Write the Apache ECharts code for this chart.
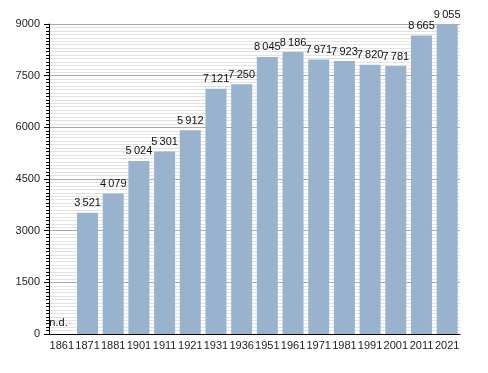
<!DOCTYPE html>
<html><head><meta charset="utf-8">
<script src="https://cdn.jsdelivr.net/npm/echarts@6/dist/echarts.min.js"></script>
<style>html,body{margin:0;padding:0;background:#fff}#c{width:488px;height:373px}</style>
</head><body><div id="c"></div>
<script>
var years = ['1861','1871','1881','1901','1911','1921','1931','1936','1951','1961','1971','1981','1991','2001','2011','2021'];
var population = [null,3521,4079,5024,5301,5912,7121,7250,8045,8186,7971,7923,7820,7781,8665,9055];
var yTicks = [0,1500,3000,4500,6000,7500,9000];

function fmt(v){ return String(v).replace(/\B(?=(\d{3})+(?!\d))/g, '\u2009'); }

var seriesData = population.map(function(v){
  if (v === null) return {value:0, label:{formatter:'n.d.', position:'insideBottomLeft', offset:[-6,-2]}};
  return v;
});

var chart = echarts.init(document.getElementById('c'), null, {renderer:'canvas'});
chart.setOption({
  animation:false,
  textStyle:{fontFamily:'Liberation Sans, Arial, sans-serif'},
  grid:{left:49, right:28, top:24, bottom:39},
  xAxis:{
    type:'category', data:years, boundaryGap:true,
    axisLine:{show:true, onZero:false, lineStyle:{color:'#000', width:1}},
    axisTick:{show:false},
    axisLabel:{color:'#222', fontSize:11, margin:6, interval:0}
  },
  yAxis:{
    type:'value', min:yTicks[0], max:yTicks[yTicks.length-1], interval:1500,
    axisLine:{show:true, onZero:false, lineStyle:{color:'#000', width:1}},
    axisTick:{show:true, inside:false, length:5, lineStyle:{color:'#000', width:1}},
    minorTick:{show:true, splitNumber:15, length:3, lineStyle:{color:'#000', width:1}},
    axisLabel:{color:'#222', fontSize:11, margin:9, formatter:function(v){ return String(v); }},
    splitLine:{show:true, lineStyle:{color:'#aaa', width:1}},
    minorSplitLine:{show:true, lineStyle:{color:'#e2e2e2', width:1}}
  },
  series:[{
    type:'bar', data:seriesData, barWidth:21,
    itemStyle:{color:'#99b3cf'},
    label:{show:true, position:'top', color:'#111', fontSize:11, distance:4,
      formatter:function(p){ return fmt(p.value); }}
  }]
});
</script></body></html>
